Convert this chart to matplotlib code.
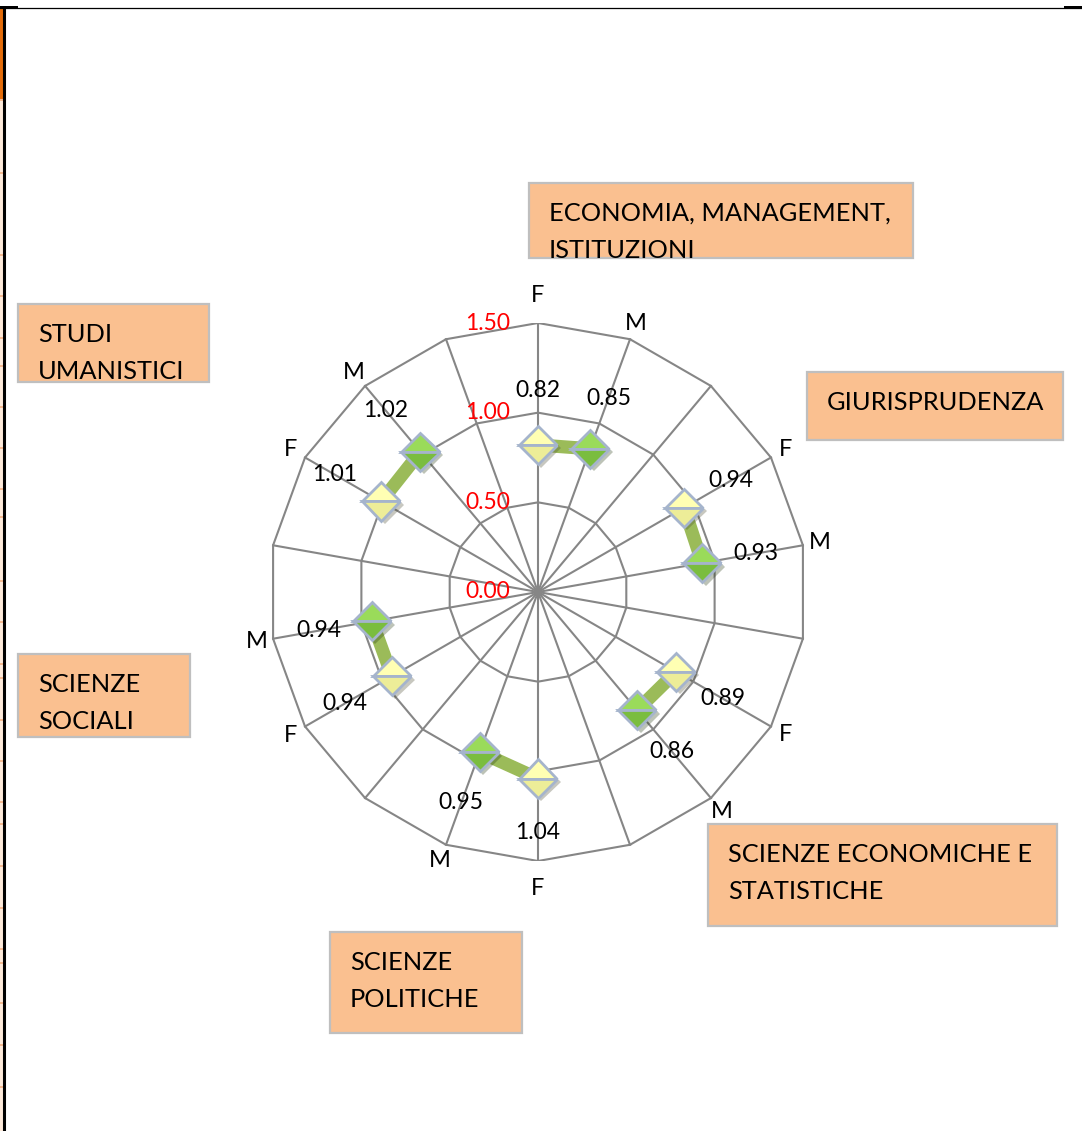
import numpy as np
import matplotlib
matplotlib.use("Agg")
import matplotlib.pyplot as plt
import matplotlib.patheffects as pe
from matplotlib.patches import Rectangle
from matplotlib.lines import Line2D

plt.rcParams['font.family'] = ['Lato', 'DejaVu Sans']

# chart data (18 spokes, every third one empty)
categories = ['F', 'M', '', 'F', 'M', '', 'F', 'M', '', 'F', 'M', '',
              'F', 'M', '', 'F', 'M', '']
values = [0.82, 0.85, None, 0.94, 0.93, None, 0.89, 0.86, None,
          1.04, 0.95, None, 0.94, 0.94, None, 1.01, 1.02, None]
rings = [0.0, 0.5, 1.0, 1.5]
ring_labels = ['0.00', '0.50', '1.00', '1.50']

groups = ['ECONOMIA, MANAGEMENT,\nISTITUZIONI', 'GIURISPRUDENZA',
          'SCIENZE ECONOMICHE E\nSTATISTICHE', 'SCIENZE\nPOLITICHE',
          'SCIENZE\nSOCIALI', 'STUDI\nUMANISTICI']
# text boxes in pixels: left, top, right, bottom
group_boxes = [(529, 183, 913, 258), (807, 372, 1063, 440),
               (708, 824, 1057, 926), (330, 932, 522, 1033),
               (18, 654, 190, 737), (18, 304, 209, 382)]

W, H = 1082, 1131
fig = plt.figure(figsize=(W / 100, H / 100), dpi=100)
fig.patch.set_facecolor('white')

cx, cy, R = 538, 592, 269  # chart centre and outer radius (px)
rmax = rings[-1]
ax = fig.add_axes([(cx - R) / W, 1 - (cy + R) / H, 2 * R / W, 2 * R / H])
ax.set_xlim(-rmax, rmax)
ax.set_ylim(-rmax, rmax)
ax.axis('off')

n = len(categories)
theta = np.arange(n) * 2 * np.pi / n
s, c = np.sin(theta), np.cos(theta)
grid_c = '#868686'

# polygon rings + spokes
closed = np.append(theta, theta[0])
for r in rings[1:]:
    ax.plot(r * np.sin(closed), r * np.cos(closed), color=grid_c, lw=1.5, zorder=1)
for t in theta:
    ax.plot([0, rmax * np.sin(t)], [0, rmax * np.cos(t)], color=grid_c, lw=1.5, zorder=1)

# radial scale labels
for r, lab in zip(rings, ring_labels):
    ax.annotate(lab, (0, r), xytext=(-20, 0), textcoords='offset points',
                ha='right', va='center', color='#FF0000', fontsize=16.5,
                annotation_clip=False)

# spoke labels
px = rmax / R
for t, lab in zip(theta, categories):
    if not lab:
        continue
    va = 'center'
    if np.cos(t) > 0.99:
        va = 'bottom'
    elif np.cos(t) < -0.99:
        va = 'top'
    rl = 286 * px
    ax.text(rl * np.sin(t), rl * np.cos(t), lab, ha='center', va=va,
            fontsize=17)

v = np.array([np.nan if x is None else x for x in values])
xs, ys = v * s, v * c

# connecting line (broken at the empty spokes)
ax.plot(xs, ys, color='#9BBB59', lw=9.5, solid_capstyle='butt', zorder=3)

cats = np.array(categories)
shadow = [pe.SimplePatchShadow(offset=(2.5, -2.5), alpha=0.3), pe.Normal()]
for key, top, bot in [('F', '#FFFFB3', '#EDED98'), ('M', '#9ADB5A', '#7ABD3F')]:
    m = cats == key
    ax.plot(xs[m], ys[m], ls='none', marker='D', ms=19.5, fillstyle='top',
            mfc=top, mfcalt=bot, mec='#A5B4CC', mew=2, zorder=4,
            clip_on=False, path_effects=shadow)

# data labels, pushed radially outward
off = 54 * 72 / 100
for xi, yi, vi, si, ci in zip(xs, ys, v, s, c):
    if np.isnan(vi):
        continue
    ax.annotate(f'{vi:.2f}', (xi, yi), xytext=(off * si, off * ci),
                textcoords='offset points', ha='center', va='center',
                fontsize=16.5, zorder=5, annotation_clip=False)

# group boxes
for lab, (x0, y0, x1, y1) in zip(groups, group_boxes):
    rect = Rectangle((x0 / W, 1 - y1 / H), (x1 - x0) / W, (y1 - y0) / H,
                     transform=fig.transFigure, fc='#FAC090', ec='#BFBFBF',
                     lw=1.6, zorder=2)
    fig.add_artist(rect)
    for i, line in enumerate(lab.split('\n')):
        t = fig.text((x0 + 20) / W, 1 - (y0 + 38 + 37 * i) / H, line,
                     ha='left', va='baseline', fontsize=18.3, zorder=3)
        t.set_clip_path(rect)

# sheet border remnants
fig.add_artist(Rectangle((0, 1 - 99 / H), 3 / W, 90 / H, transform=fig.transFigure,
                         fc='#E46C0A', ec='none'))
fig.add_artist(Rectangle((0, 0), 3 / W, 1 - 99 / H, transform=fig.transFigure,
                         fc='#FDEADA', ec='none'))
for yt in [100, 173, 255, 296, 338, 366, 407, 448, 489, 517, 581, 622, 664, 678,
           720, 761, 802, 824, 866, 908, 949, 963, 1003, 1045, 1087]:
    fig.add_artist(Line2D([0, 3 / W], [1 - yt / H] * 2, color='#F4B183', lw=1.2))
fig.add_artist(Line2D([0, 1], [1 - 7.5 / H] * 2, color='black', lw=0.9))
fig.add_artist(Rectangle((0, 1 - 9 / H), 18 / W, 3 / H, transform=fig.transFigure,
                         fc='black', ec='none'))
fig.add_artist(Rectangle((1 - 18 / W, 1 - 9 / H), 18 / W, 3 / H, transform=fig.transFigure,
                         fc='black', ec='none'))
fig.add_artist(Line2D([4 / W] * 2, [0, 1 - 8 / H], color='black', lw=2.2))

fig.savefig('out.png', dpi=100)
